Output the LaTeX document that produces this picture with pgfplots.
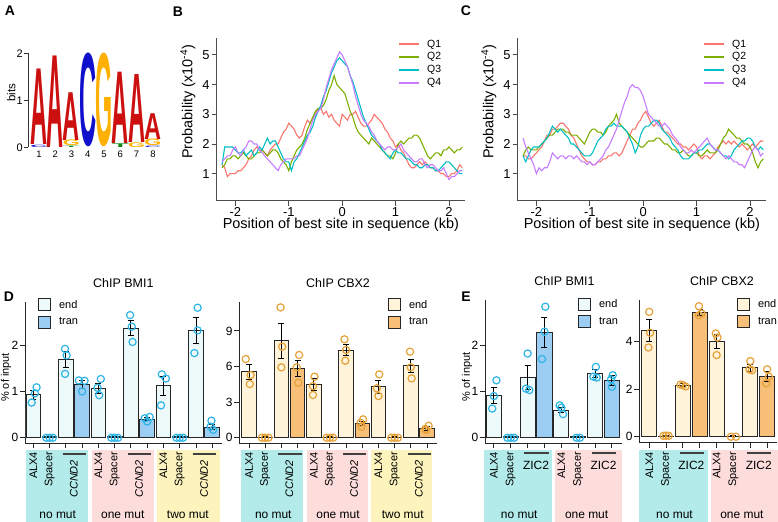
\documentclass[border=0pt]{standalone}
\usepackage{fontspec}
\setmainfont{Liberation Sans}
\usepackage{graphicx}
\usepackage{pgfplots}
\pgfplotsset{compat=1.18}
\usepackage{pgfplotstable}

\definecolor{qa}{HTML}{F8766D}
\definecolor{qb}{HTML}{7CAE00}
\definecolor{qc}{HTML}{00BFC4}
\definecolor{qd}{HTML}{C77CFF}
\definecolor{logoA}{HTML}{CC1010}
\definecolor{logoC}{HTML}{1010CC}
\definecolor{logoG}{HTML}{FFB000}
\definecolor{logoT}{HTML}{108A10}
\definecolor{bandC}{HTML}{B3EBEB}
\definecolor{bandP}{HTML}{FDDCDC}
\definecolor{bandY}{HTML}{FDF4BD}
\definecolor{bEnd}{HTML}{EEFAFA}
\definecolor{bTran}{HTML}{9CCEF4}
\definecolor{bPt}{HTML}{2FB4E6}
\definecolor{cEnd}{HTML}{FFF3DA}
\definecolor{cTran}{HTML}{F8BF78}
\definecolor{cPt}{HTML}{E6A238}

\newcommand\fs[1]{\fontsize{#1}{#1}\selectfont}

% profile data, panel B
\pgfplotstableread{
x q1 q2 q3 q4
-2.25 1.3 1.2 1.3 1.4
-2.20 1.2 1.3 1.9 1.5
-2.15 0.9 1.5 1.9 1.6
-2.10 1.0 1.5 1.9 1.6
-2.05 1.0 1.6 1.9 1.8
-2.00 1.0 1.6 1.8 1.9
-1.95 1.1 1.5 1.7 1.7
-1.90 1.1 1.6 1.7 1.6
-1.85 1.2 1.7 1.8 1.8
-1.80 1.3 1.6 1.6 1.9
-1.75 1.5 1.5 1.7 2.1
-1.70 1.6 1.5 1.8 2.1
-1.65 1.8 1.6 1.6 2.0
-1.60 1.9 1.7 1.7 2.0
-1.55 1.8 1.7 1.9 1.8
-1.50 1.8 1.8 1.8 1.7
-1.45 1.7 1.7 2.0 1.6
-1.40 1.6 1.6 2.2 1.5
-1.35 1.8 1.7 2.0 1.4
-1.30 1.9 1.8 2.1 1.3
-1.25 2.0 1.8 2.1 1.2
-1.20 2.0 1.7 1.9 1.1
-1.15 2.2 1.5 1.7 1.3
-1.10 2.4 1.4 1.5 1.4
-1.05 2.5 1.3 1.4 1.5
-1.00 2.7 1.1 1.4 1.5
-0.95 2.6 1.4 1.1 1.5
-0.90 2.5 1.6 1.4 1.5
-0.85 2.3 1.8 1.5 1.6
-0.80 2.2 1.9 1.7 1.6
-0.75 2.3 2.0 1.9 1.8
-0.70 2.6 2.2 2.1 2.0
-0.65 2.8 2.5 2.3 2.2
-0.60 2.7 2.7 2.4 2.5
-0.55 2.9 2.9 2.6 2.8
-0.50 3.0 3.1 2.9 3.0
-0.45 3.2 3.2 3.1 3.1
-0.40 3.2 3.2 3.3 3.2
-0.35 3.0 3.3 3.6 3.5
-0.30 3.1 3.5 3.8 3.9
-0.25 2.9 3.8 4.1 4.2
-0.20 3.0 4.0 4.4 4.5
-0.15 2.8 4.3 4.6 4.7
-0.10 2.7 4.0 4.8 4.9
-0.05 2.6 3.9 4.9 5.1
0.00 3.0 3.8 4.8 5.0
0.05 2.9 3.7 4.7 4.8
0.10 2.8 3.4 4.6 4.6
0.15 3.0 3.1 4.3 4.3
0.20 3.0 2.9 4.1 4.0
0.25 3.1 2.6 3.8 3.6
0.30 2.9 2.4 3.5 3.3
0.35 2.7 2.3 3.2 3.0
0.40 2.6 2.2 2.9 2.8
0.45 2.6 2.1 2.7 2.7
0.50 2.7 2.0 2.5 2.6
0.55 2.8 2.2 2.3 2.4
0.60 3.0 2.1 2.2 2.3
0.65 2.9 2.0 2.1 2.1
0.70 2.8 1.9 2.0 2.0
0.75 2.7 1.8 1.8 1.9
0.80 2.5 1.7 1.7 1.8
0.85 2.4 1.6 1.6 1.9
0.90 2.2 1.6 1.5 1.9
0.95 2.1 1.5 1.7 1.8
1.00 1.9 1.7 1.8 1.8
1.05 2.0 2.0 1.7 1.9
1.10 1.8 2.1 1.7 2.0
1.15 1.7 2.0 1.6 1.8
1.20 1.5 2.1 1.5 1.7
1.25 1.3 2.2 1.5 1.6
1.30 1.2 2.2 1.4 1.5
1.35 1.2 2.3 1.3 1.4
1.40 1.3 2.3 1.3 1.4
1.45 1.4 2.2 1.2 1.5
1.50 1.3 2.0 1.2 1.5
1.55 1.4 1.8 1.3 1.3
1.60 1.3 1.6 1.3 1.2
1.65 1.2 1.5 1.2 1.3
1.70 1.2 1.6 1.2 1.3
1.75 1.1 1.7 1.1 1.2
1.80 1.1 1.7 1.1 1.1
1.85 1.0 1.6 1.2 1.1
1.90 1.0 1.8 1.3 1.2
1.95 0.9 1.8 1.4 1.0
2.00 0.9 1.9 1.4 0.8
2.05 1.0 1.8 1.3 0.9
2.10 1.0 1.7 1.2 0.9
2.15 1.1 1.8 1.1 1.0
2.20 1.3 1.8 1.0 1.1
2.25 1.2 1.9 1.0 1.1
}\tabB

% profile data, panel C
\pgfplotstableread{
x q1 q2 q3 q4
-2.25 1.6 1.6 1.6 2.2
-2.20 1.6 1.8 1.4 1.9
-2.15 1.5 1.9 1.6 1.7
-2.10 1.5 1.8 1.8 1.5
-2.05 1.6 1.8 1.9 1.3
-2.00 1.7 1.8 1.9 1.0
-1.95 1.8 1.9 1.9 1.2
-1.90 1.9 2.0 2.0 1.1
-1.85 2.1 2.1 2.1 1.2
-1.80 2.3 2.2 2.2 1.2
-1.75 2.3 2.3 2.4 1.4
-1.70 2.5 2.3 2.6 1.7
-1.65 2.5 2.4 2.5 1.6
-1.60 2.6 2.5 2.4 1.5
-1.55 2.7 2.5 2.5 1.6
-1.50 2.7 2.5 2.4 1.6
-1.45 2.6 2.4 2.3 1.5
-1.40 2.5 2.4 2.2 1.6
-1.35 2.3 2.3 2.0 1.6
-1.30 2.2 2.3 2.0 1.5
-1.25 2.0 2.3 1.9 1.6
-1.20 1.8 2.2 1.8 1.5
-1.15 1.6 2.1 1.7 1.4
-1.10 1.5 2.0 1.6 1.4
-1.05 1.4 2.2 1.6 1.3
-1.00 1.4 2.4 1.6 1.4
-0.95 1.3 2.5 1.7 1.3
-0.90 1.3 2.5 1.9 1.3
-0.85 1.4 2.4 2.1 1.4
-0.80 1.4 2.4 2.2 1.5
-0.75 1.5 2.3 2.3 1.6
-0.70 1.5 2.4 2.5 1.8
-0.65 1.6 2.6 2.6 1.9
-0.60 1.6 2.7 2.6 2.1
-0.55 1.7 2.8 2.7 2.3
-0.50 1.7 3.0 2.6 2.5
-0.45 1.6 2.7 2.6 2.8
-0.40 1.7 2.6 2.6 3.1
-0.35 1.9 2.5 2.5 3.4
-0.30 2.1 2.4 2.4 3.6
-0.25 2.3 2.3 2.2 3.9
-0.20 2.5 2.2 2.0 4.0
-0.15 2.5 2.1 1.7 3.9
-0.10 2.7 2.0 1.9 3.9
-0.05 2.8 1.9 2.3 3.8
0.00 3.0 1.9 2.5 3.6
0.05 3.1 2.0 2.6 3.3
0.10 2.9 2.1 2.6 3.0
0.15 2.7 2.1 2.7 2.9
0.20 2.6 2.1 2.8 2.8
0.25 2.7 2.2 2.8 2.7
0.30 2.8 2.2 2.7 2.6
0.35 2.6 2.1 2.5 2.6
0.40 2.4 2.0 2.4 2.7
0.45 2.4 2.0 2.3 2.6
0.50 2.3 1.9 2.2 2.5
0.55 2.2 1.8 2.0 2.3
0.60 2.1 1.8 1.9 2.2
0.65 2.0 1.7 1.8 2.1
0.70 2.0 1.7 1.6 1.9
0.75 1.9 1.8 1.5 1.8
0.80 1.9 1.7 1.5 1.7
0.85 1.8 1.6 1.5 1.7
0.90 1.9 1.6 1.6 1.8
0.95 2.0 1.7 1.7 1.7
1.00 1.9 1.7 1.7 1.8
1.05 1.6 1.6 1.8 1.9
1.10 1.5 1.6 1.8 2.0
1.15 1.6 1.7 1.9 2.1
1.20 1.6 1.8 2.0 2.2
1.25 1.5 1.7 2.0 2.0
1.30 1.6 1.7 1.9 1.9
1.35 1.7 1.7 1.8 1.8
1.40 1.9 1.8 1.8 1.8
1.45 2.0 2.0 1.7 1.7
1.50 2.1 2.2 1.6 1.6
1.55 2.0 2.3 1.6 1.5
1.60 2.1 2.5 1.5 1.6
1.65 2.0 2.4 1.6 1.5
1.70 2.1 2.3 1.8 1.4
1.75 2.0 2.2 1.9 1.4
1.80 1.9 2.2 2.0 1.3
1.85 2.0 2.1 2.1 1.3
1.90 1.9 2.0 2.1 1.2
1.95 1.8 2.0 2.2 1.4
2.00 1.9 1.9 2.2 1.6
2.05 2.0 1.7 2.1 1.8
2.10 1.9 1.4 1.9 1.9
2.15 2.0 1.2 1.8 1.8
2.20 2.1 1.4 1.9 1.6
2.25 2.1 1.5 1.8 1.7
}\tabC

\tikzset{
  logo/.style={inner sep=0pt, anchor=south, font=\bfseries},
  rl/.style={rotate=90, anchor=east, inner sep=0pt, font=\fs{11}},
  gn/.style={inner sep=0pt, font=\fs{12}},
  gl/.style={black!75, line width=1.2bp},
  plab/.style={font=\bfseries\fs{14}, inner sep=0pt},
}

\pgfplotsset{
  profile/.style={
    scale only axis, anchor=south west,
    width=248.3bp, height=163bp,
    xmin=-2.35, xmax=2.3, ymin=0.09, ymax=5.58,
    axis x line*=bottom, axis y line*=left,
    axis line style={-, black!70, line width=0.9bp},
    xtick={-2,-1,0,1,2}, ytick={1,2,3,4,5},
    tick align=outside, major tick length=5bp,
    every tick/.style={black!70, line width=0.9bp},
    /pgf/number format/assume math mode=true,
    tick label style={font=\fs{13}},
    xticklabel style={inner sep=0pt, yshift=-2bp},
    yticklabel style={inner sep=2pt},
    xlabel={Position of best site in sequence (kb)},
    ylabel={Probability (x10\textsuperscript{-4})},
    label style={font=\fs{14.5}},
    xlabel style={at={(axis description cs:0.5,0)}, anchor=center, yshift=-24bp},
    ylabel style={at={(axis description cs:-0.116,0.607)}, anchor=center},
    legend image code/.code={\draw[##1, line width=2bp] (0bp,0bp) -- (20bp,0bp);},
    legend style={anchor=north west, draw=none, fill=none, inner sep=0pt,
      font=\fs{10.5}, row sep=0bp, cells={anchor=west},
      /tikz/every odd column/.append style={column sep=5bp}},
  },
  barax/.style={
    scale only axis, anchor=south west, clip=false,
    axis x line*=bottom, axis y line*=left,
    axis line style={-, black!85, line width=0.9bp},
    tick align=outside, major tick length=5bp,
    every tick/.style={black!85, line width=0.9bp},
    xticklabels={},
    /pgf/number format/assume math mode=true,
    tick label style={font=\fs{12}},
    yticklabel style={inner sep=1.5pt},
    ylabel style={font=\fs{11}},
    title style={font=\fs{12.5}, at={(axis description cs:0.5,1)}, anchor=center, yshift=13bp},
    legend image code/.code={\draw[##1, line width=0.9bp, draw=black!85] (0bp,-6bp) rectangle (12bp,6bp);},
    legend style={anchor=north west, draw=none, fill=none, inner sep=0pt,
      font=\fs{11}, row sep=4bp, cells={anchor=west},
      /tikz/every odd column/.append style={column sep=6bp}},
  },
  bmibar/.style={ybar, bar width=0.9, bar shift=0pt, draw=black!85, line width=0.9bp},
  errs/.style={forget plot, draw=none, mark=none,
    error bars/.cd, y dir=both, y explicit,
    error bar style={draw=black, line width=0.9bp},
    error mark options={draw=black, line width=0.9bp, mark size=3bp, rotate=90}},
  pts/.style={forget plot, only marks, mark=o, mark size=3.6bp,
    mark options={draw=#1, line width=1.2bp}},
}

\begin{document}
\begin{tikzpicture}
\useasboundingbox (0,0) rectangle (778bp,-522bp);

% panel letters
\node[plab] at (10bp,-11bp) {A};
\node[plab] at (178bp,-12bp) {B};
\node[plab] at (466bp,-11bp) {C};
\node[plab] at (9bp,-297bp) {D};
\node[plab] at (466bp,-297bp) {E};

% ---------- A: motif logo ----------
\begin{axis}[at={(28.3bp,-147.3bp)}, anchor=south west, scale only axis,
  width=136bp, height=93.8bp, xmin=0.35, xmax=8.7, ymin=0, ymax=2, clip=false,
  axis y line*=left, axis x line*=bottom,
  x axis line style={draw=none}, y axis line style={-, black!80, line width=0.8bp},
  xtick={1,...,8}, ytick={0,1,2}, major x tick style={draw=none},
  tick align=outside, major tick length=4bp,
  every tick/.style={black!80, line width=0.8bp},
  /pgf/number format/assume math mode=true,
  xticklabel style={font=\fs{9.5}, inner sep=0.5pt, yshift=1.5bp},
  yticklabel style={font=\fs{11}, inner sep=1.5pt},
  ylabel={bits}, ylabel style={font=\fs{11.5}, at={(axis description cs:-0.125,0.584)}, anchor=center}]
\node[logo, text=logoC] at (axis cs:1,0) {\resizebox{17bp}{2.3bp}{C}};
\node[logo, text=logoA] at (axis cs:1,0.06) {\resizebox{17bp}{75.5bp}{A}};
\node[logo, text=logoA] at (axis cs:2,0) {\resizebox{17bp}{91.5bp}{A}};
\node[logo, text=logoT] at (axis cs:3,0) {\resizebox{17bp}{1.4bp}{T}};
\node[logo, text=logoG] at (axis cs:3,0.03) {\resizebox{17bp}{5.6bp}{G}};
\node[logo, text=logoA] at (axis cs:3,0.15) {\resizebox{17bp}{47.8bp}{A}};
\node[logo, text=logoC] at (axis cs:4,0) {\resizebox{17bp}{92.4bp}{C}};
\node[logo, text=logoG] at (axis cs:5,0) {\resizebox{17bp}{92.4bp}{G}};
\node[logo, text=logoT] at (axis cs:6,0) {\resizebox{17bp}{3.7bp}{T}};
\node[logo, text=logoA] at (axis cs:6,0.08) {\resizebox{17bp}{71.3bp}{A}};
\node[logo, text=logoG] at (axis cs:7,0) {\resizebox{17bp}{4.7bp}{G}};
\node[logo, text=logoA] at (axis cs:7,0.1) {\resizebox{17bp}{68bp}{A}};
\node[logo, text=logoC] at (axis cs:8,0) {\resizebox{17bp}{1.4bp}{C}};
\node[logo, text=logoG] at (axis cs:8,0.03) {\resizebox{17bp}{6.6bp}{G}};
\node[logo, text=logoA] at (axis cs:8,0.17) {\resizebox{17bp}{25.8bp}{A}};
\end{axis}

% ---------- B ----------
\begin{axis}[profile, at={(216.7bp,-200.7bp)}, legend style={at={(rel axis cs:0.73,1.0)}}]
\addplot[qa, line width=1.1bp] table[x=x, y=q1] {\tabB}; \addlegendentry{Q1}
\addplot[qb, line width=1.1bp] table[x=x, y=q2] {\tabB}; \addlegendentry{Q2}
\addplot[qc, line width=1.1bp] table[x=x, y=q3] {\tabB}; \addlegendentry{Q3}
\addplot[qd, line width=1.1bp] table[x=x, y=q4] {\tabB}; \addlegendentry{Q4}
\end{axis}

% ---------- C ----------
\begin{axis}[profile, at={(517.7bp,-200.7bp)}, legend style={at={(rel axis cs:0.746,1.0)}}]
\addplot[qa, line width=1.1bp] table[x=x, y=q1] {\tabC}; \addlegendentry{Q1}
\addplot[qb, line width=1.1bp] table[x=x, y=q2] {\tabC}; \addlegendentry{Q2}
\addplot[qc, line width=1.1bp] table[x=x, y=q3] {\tabC}; \addlegendentry{Q3}
\addplot[qd, line width=1.1bp] table[x=x, y=q4] {\tabC}; \addlegendentry{Q4}
\end{axis}

% ---------- D: ChIP BMI1 ----------
\begin{axis}[barax, at={(25bp,-443.3bp)}, width=196.7bp, height=141.6bp,
  xmin=0.49, xmax=12.58, ymin=-0.12, ymax=2.94, xtick={1,...,12}, ytick={0,1,2},
  ylabel={\% of input}, ylabel style={at={(axis description cs:-0.097,0.465)}, anchor=center},
  title={ChIP BMI1}, legend style={at={(rel axis cs:0.066,1.026)}}]
\fill[bandC] ([yshift=-6.7bp]axis cs:0.58,-0.12) rectangle ([yshift=-80bp]axis cs:4.37,-0.12);
\fill[bandP] ([yshift=-6.7bp]axis cs:4.59,-0.12) rectangle ([yshift=-80bp]axis cs:8.42,-0.12);
\fill[bandY] ([yshift=-6.7bp]axis cs:8.58,-0.12) rectangle ([yshift=-80bp]axis cs:12.47,-0.12);
\addplot[bmibar, fill=bEnd] coordinates {(1,0.93) (3,1.70) (5,1.06) (7,2.37) (9,1.12) (11,2.32)};
\addlegendentry{end}
\addplot[bmibar, fill=bTran] coordinates {(2,0.02) (4,1.15) (6,0.02) (8,0.40) (10,0.02) (12,0.23)};
\addlegendentry{tran}
\addplot[pts=bPt] coordinates {(1.2,1.09) (1.1,0.96) (0.9,0.76) (1.8,0) (2,0) (2.2,0)
  (2.95,1.92) (3.05,1.78) (2.95,1.38) (3.8,1.24) (4.15,1.23) (4.0,1.0)
  (5.15,1.27) (4.95,1.08) (5.05,0.92) (5.8,0) (6,0) (6.2,0)
  (6.95,2.65) (7.05,2.40) (7.1,2.07) (7.85,0.42) (8.15,0.45) (8.0,0.35)
  (8.9,1.37) (9.15,1.28) (8.85,0.70) (9.8,0) (10,0) (10.2,0)
  (11.1,2.81) (11.1,2.32) (10.9,1.83) (11.95,0.37) (11.9,0.24) (12.05,0.17)};
\addplot[errs] coordinates {(1,0.93)+-(0,0.10) (2,0.02)+-(0,0.01) (3,1.70)+-(0,0.17) (4,1.15)+-(0,0.08)
  (5,1.06)+-(0,0.11) (6,0.02)+-(0,0.01) (7,2.37)+-(0,0.16) (8,0.40)+-(0,0.03)
  (9,1.12)+-(0,0.20) (10,0.02)+-(0,0.01) (11,2.32)+-(0,0.28) (12,0.23)+-(0,0.06)};
\node[rl] at ([yshift=-8.5bp]axis cs:1,-0.12) {ALX4};
\node[rl] at ([yshift=-8.5bp]axis cs:2,-0.12) {Spacer};
\node[rl] at ([yshift=-16.5bp]axis cs:3.5,-0.12) {\itshape CCND2};
\draw[gl] ([yshift=-10.7bp]axis cs:2.8,-0.12) -- ([yshift=-10.7bp]axis cs:4.25,-0.12);
\node[rl] at ([yshift=-8.5bp]axis cs:5,-0.12) {ALX4};
\node[rl] at ([yshift=-8.5bp]axis cs:6,-0.12) {Spacer};
\node[rl] at ([yshift=-16.5bp]axis cs:7.5,-0.12) {\itshape CCND2};
\draw[gl] ([yshift=-10.7bp]axis cs:6.8,-0.12) -- ([yshift=-10.7bp]axis cs:8.25,-0.12);
\node[rl] at ([yshift=-8.5bp]axis cs:9,-0.12) {ALX4};
\node[rl] at ([yshift=-8.5bp]axis cs:10,-0.12) {Spacer};
\node[rl] at ([yshift=-16.5bp]axis cs:11.5,-0.12) {\itshape CCND2};
\draw[gl] ([yshift=-10.7bp]axis cs:10.8,-0.12) -- ([yshift=-10.7bp]axis cs:12.25,-0.12);
\node[gn] at ([yshift=-71.7bp]axis cs:2.5,-0.12) {no mut};
\node[gn] at ([yshift=-71.7bp]axis cs:6.5,-0.12) {one mut};
\node[gn] at ([yshift=-71.7bp]axis cs:10.5,-0.12) {two mut};
\end{axis}

% ---------- D: ChIP CBX2 ----------
\begin{axis}[barax, at={(239.3bp,-443.3bp)}, width=197.4bp, height=141.6bp,
  xmin=0.4, xmax=12.6, ymin=-0.47, ymax=11.46, xtick={1,...,12}, ytick={0,3,6,9},
  title={ChIP CBX2}, legend style={at={(rel axis cs:0.753,1.026)}}]
\fill[bandC] ([yshift=-6.7bp]axis cs:0.51,-0.47) rectangle ([yshift=-80bp]axis cs:4.35,-0.47);
\fill[bandP] ([yshift=-6.7bp]axis cs:4.56,-0.47) rectangle ([yshift=-80bp]axis cs:8.36,-0.47);
\fill[bandY] ([yshift=-6.7bp]axis cs:8.57,-0.47) rectangle ([yshift=-80bp]axis cs:12.3,-0.47);
\addplot[bmibar, fill=cEnd] coordinates {(1,5.55) (3,8.17) (5,4.49) (7,7.39) (9,4.30) (11,6.07)};
\addlegendentry{end}
\addplot[bmibar, fill=cTran] coordinates {(2,0.05) (4,5.84) (6,0.05) (8,1.21) (10,0.05) (12,0.79)};
\addlegendentry{tran}
\addplot[pts=cPt] coordinates {(0.8,6.63) (1.1,5.28) (1.05,4.52) (1.8,0) (2,0) (2.2,0)
  (2.95,10.98) (3.05,7.67) (3.0,5.93) (4.1,6.97) (3.95,5.93) (4.05,4.63)
  (5.05,5.14) (4.95,4.35) (4.95,3.60) (5.8,0) (6,0) (6.2,0)
  (6.9,8.29) (7.0,7.39) (6.95,6.49) (8.05,1.55) (7.9,1.26) (7.95,0.93)
  (9.05,5.34) (8.9,4.16) (9.0,3.51) (9.8,0) (10,0) (10.2,0)
  (10.95,7.25) (11.0,5.93) (11.05,5.00) (12.1,1.01) (11.9,0.75) (11.95,0.65)};
\addplot[errs] coordinates {(1,5.55)+-(0,0.65) (2,0.05)+-(0,0.03) (3,8.17)+-(0,1.45) (4,5.84)+-(0,0.70)
  (5,4.49)+-(0,0.50) (6,0.05)+-(0,0.03) (7,7.39)+-(0,0.50) (8,1.21)+-(0,0.20)
  (9,4.30)+-(0,0.55) (10,0.05)+-(0,0.03) (11,6.07)+-(0,0.55) (12,0.79)+-(0,0.15)};
\node[rl] at ([yshift=-8.5bp]axis cs:1,-0.47) {ALX4};
\node[rl] at ([yshift=-8.5bp]axis cs:2,-0.47) {Spacer};
\node[rl] at ([yshift=-16.5bp]axis cs:3.5,-0.47) {\itshape CCND2};
\draw[gl] ([yshift=-10.7bp]axis cs:2.8,-0.47) -- ([yshift=-10.7bp]axis cs:4.25,-0.47);
\node[rl] at ([yshift=-8.5bp]axis cs:5,-0.47) {ALX4};
\node[rl] at ([yshift=-8.5bp]axis cs:6,-0.47) {Spacer};
\node[rl] at ([yshift=-16.5bp]axis cs:7.5,-0.47) {\itshape CCND2};
\draw[gl] ([yshift=-10.7bp]axis cs:6.8,-0.47) -- ([yshift=-10.7bp]axis cs:8.25,-0.47);
\node[rl] at ([yshift=-8.5bp]axis cs:9,-0.47) {ALX4};
\node[rl] at ([yshift=-8.5bp]axis cs:10,-0.47) {Spacer};
\node[rl] at ([yshift=-16.5bp]axis cs:11.5,-0.47) {\itshape CCND2};
\draw[gl] ([yshift=-10.7bp]axis cs:10.8,-0.47) -- ([yshift=-10.7bp]axis cs:12.25,-0.47);
\node[gn] at ([yshift=-71.7bp]axis cs:2.5,-0.47) {no mut};
\node[gn] at ([yshift=-71.7bp]axis cs:6.5,-0.47) {one mut};
\node[gn] at ([yshift=-71.7bp]axis cs:10.5,-0.47) {two mut};
\end{axis}

% ---------- E: ChIP BMI1 ----------
\begin{axis}[barax, at={(485bp,-443.3bp)}, width=137bp, height=143.1bp,
  xmin=0.47, xmax=8.6, ymin=-0.12, ymax=2.97, xtick={1,...,8}, ytick={0,1,2},
  ylabel={\% of input}, ylabel style={at={(axis description cs:-0.131,0.465)}, anchor=center},
  title={ChIP BMI1}, title style={xshift=11bp}, legend style={at={(rel axis cs:0.679,1.021)}}]
\fill[bandC] ([yshift=-6.7bp]axis cs:0.43,-0.12) rectangle ([yshift=-80bp]axis cs:4.44,-0.12);
\fill[bandP] ([yshift=-6.7bp]axis cs:4.62,-0.12) rectangle ([yshift=-80bp]axis cs:8.6,-0.12);
\addplot[bmibar, fill=bEnd] coordinates {(1,0.92) (3,1.30) (5,0.60) (7,1.39)};
\addlegendentry{end}
\addplot[bmibar, fill=bTran] coordinates {(2,0.02) (4,2.27) (6,0.02) (8,1.23)};
\addlegendentry{tran}
\addplot[pts=bPt] coordinates {(1.15,1.24) (1.0,0.90) (0.9,0.63) (1.8,0) (2,0) (2.2,0)
  (3.0,1.82) (2.9,1.06) (3.1,1.03) (4.05,2.83) (4.0,2.29) (3.85,1.70)
  (4.9,0.70) (5.0,0.65) (5.1,0.51) (5.9,0) (6.1,0)
  (7.05,1.53) (6.9,1.32) (7.1,1.30) (8.05,1.35) (7.95,1.26) (8.0,1.10)};
\addplot[errs] coordinates {(1,0.92)+-(0,0.17) (2,0.02)+-(0,0.01) (3,1.30)+-(0,0.26) (4,2.27)+-(0,0.33)
  (5,0.60)+-(0,0.06) (6,0.02)+-(0,0.01) (7,1.39)+-(0,0.09) (8,1.23)+-(0,0.11)};
\node[rl] at ([yshift=-8.5bp]axis cs:1,-0.12) {ALX4};
\node[rl] at ([yshift=-8.5bp]axis cs:2,-0.12) {Spacer};
\node[gn] at ([yshift=-21.7bp]axis cs:3.5,-0.12) {ZIC2};
\draw[gl] ([yshift=-9.7bp]axis cs:2.8,-0.12) -- ([yshift=-9.7bp]axis cs:4.25,-0.12);
\node[rl] at ([yshift=-8.5bp]axis cs:5,-0.12) {ALX4};
\node[rl] at ([yshift=-8.5bp]axis cs:6,-0.12) {Spacer};
\node[gn] at ([yshift=-21.7bp]axis cs:7.5,-0.12) {ZIC2};
\draw[gl] ([yshift=-9.7bp]axis cs:6.8,-0.12) -- ([yshift=-9.7bp]axis cs:8.25,-0.12);
\node[gn] at ([yshift=-71.7bp]axis cs:2.5,-0.12) {no mut};
\node[gn] at ([yshift=-71.7bp]axis cs:6.5,-0.12) {one mut};
\end{axis}

% ---------- E: ChIP CBX2 ----------
\begin{axis}[barax, at={(639.3bp,-442.7bp)}, width=137.3bp, height=142.7bp,
  xmin=0.41, xmax=8.56, ymin=-0.25, ymax=5.76, xtick={1,...,8}, ytick={0,2,4},
  title={ChIP CBX2}, title style={xshift=14bp}, legend style={at={(rel axis cs:0.711,1.02)}}]
\fill[bandC] ([yshift=-7.3bp]axis cs:0.39,-0.25) rectangle ([yshift=-80bp]axis cs:4.48,-0.25);
\fill[bandP] ([yshift=-7.3bp]axis cs:4.64,-0.25) rectangle ([yshift=-80bp]axis cs:8.62,-0.25);
\addplot[bmibar, fill=cEnd] coordinates {(1,4.49) (3,2.18) (5,4.00) (7,2.91)};
\addlegendentry{end}
\addplot[bmibar, fill=cTran] coordinates {(2,0.03) (4,5.24) (6,0.03) (8,2.55)};
\addlegendentry{tran}
\addplot[pts=cPt] coordinates {(1.0,5.26) (1.05,4.38) (0.95,3.76) (1.85,0.04) (2,0.05) (2.15,0.04)
  (2.85,2.20) (3.0,2.18) (3.15,2.12) (3.95,5.50) (4.1,5.19) (3.95,5.12)
  (4.95,4.35) (5.05,4.18) (5.0,3.44) (5.85,0) (6.15,0)
  (7.0,3.19) (6.95,2.84) (7.1,2.80) (8.0,2.84) (8.1,2.53) (7.95,2.25)};
\addplot[errs] coordinates {(1,4.49)+-(0,0.47) (2,0.03)+-(0,0.02) (3,2.18)+-(0,0.05) (4,5.24)+-(0,0.14)
  (5,4.00)+-(0,0.30) (6,0.03)+-(0,0.02) (7,2.91)+-(0,0.14) (8,2.55)+-(0,0.21)};
\node[rl] at ([yshift=-9bp]axis cs:1,-0.25) {ALX4};
\node[rl] at ([yshift=-9bp]axis cs:2,-0.25) {Spacer};
\node[gn] at ([yshift=-22.3bp]axis cs:3.5,-0.25) {ZIC2};
\draw[gl] ([yshift=-10.3bp]axis cs:2.8,-0.25) -- ([yshift=-10.3bp]axis cs:4.25,-0.25);
\node[rl] at ([yshift=-9bp]axis cs:5,-0.25) {ALX4};
\node[rl] at ([yshift=-9bp]axis cs:6,-0.25) {Spacer};
\node[gn] at ([yshift=-22.3bp]axis cs:7.5,-0.25) {ZIC2};
\draw[gl] ([yshift=-10.3bp]axis cs:6.8,-0.25) -- ([yshift=-10.3bp]axis cs:8.25,-0.25);
\node[gn] at ([yshift=-72.3bp]axis cs:2.5,-0.25) {no mut};
\node[gn] at ([yshift=-72.3bp]axis cs:6.5,-0.25) {one mut};
\end{axis}
\end{tikzpicture}
\end{document}
